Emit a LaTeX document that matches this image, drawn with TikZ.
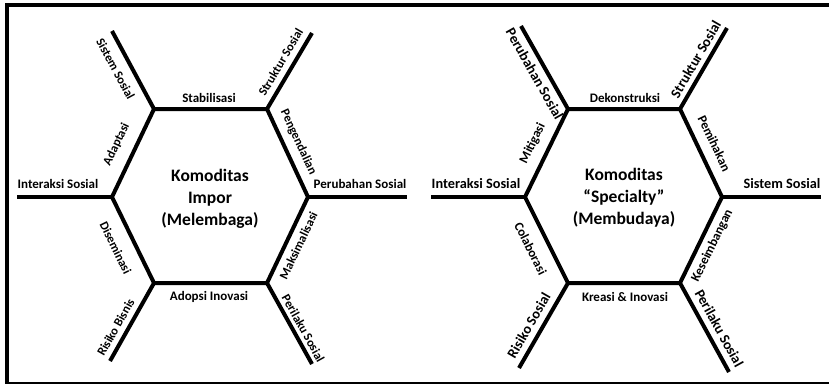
\documentclass[tikz,border=0pt]{standalone}
\usepackage{fontspec}
\setmainfont{Carlito}
\begin{document}
\begin{tikzpicture}[x=1pt,y=-1pt,
  frame/.style={line width=3.5pt, black},
  hexline/.style={line width=4pt, black, line join=miter},
  spoke/.style={line width=4pt, black},
  lblA/.style={inner sep=0pt, font=\fontsize{12.5}{14}\selectfont\bfseries},
  lblB/.style={inner sep=0pt, font=\fontsize{13}{15}\selectfont\bfseries},
  lblC/.style={inner sep=0pt, font=\fontsize{14.3}{16}\selectfont\bfseries},
  outA/.style={yshift=1.5pt},
  outB/.style={yshift=-1.5pt},
  center/.style={inner sep=0pt, align=center, font=\fontsize{17.5}{22}\selectfont\bfseries}]
\useasboundingbox (0,0) rectangle (829,384);
% frame
\coordinate (f1) at (5.25,5);
\coordinate (f2) at (829,5);
\coordinate (f0) at (7,3.25);
\coordinate (f3) at (7,384);
\coordinate (f4) at (7,383);
\coordinate (f5) at (829,383);
\draw[frame] (f1) -- (f2);
\draw[frame] (f0) -- (f3);
\draw[line width=1.5pt] (f4) -- (f5);

% ---------- left hexagon ----------
\coordinate (Atl) at (154,109);
\coordinate (Atr) at (267,109);
\coordinate (Ar)  at (308,197);
\coordinate (Abr) at (267,283);
\coordinate (Abl) at (154,283);
\coordinate (Al)  at (112,197);
\coordinate (Atl2) at (112,31);
\coordinate (Atr2) at (312,33);
\coordinate (Ar2)  at (407,197);
\coordinate (Abr2) at (312,364);
\coordinate (Abl2) at (110,361);
\coordinate (Al2)  at (17,197);
\draw[hexline] (Atl) -- (Atr) -- (Ar) -- (Abr) -- (Abl) -- (Al) -- cycle;
\draw[spoke] (Atl) -- (Atl2);
\draw[spoke] (Atr) -- (Atr2);
\draw[spoke] (Ar) -- (Ar2);
\draw[spoke] (Abr) -- (Abr2);
\draw[spoke] (Abl) -- (Abl2);
\draw[spoke] (Al) -- (Al2);

\node[center] (Ac) at (210,199) {Komoditas\\Impor\\(Melembaga)};
\node[lblB] (Ast) at (209,98) {Stabilisasi};
\node[lblB] (Aad) at (209,297) {Adopsi Inovasi};
\node[lblB] (Ain) at (58,184) {Interaksi Sosial};
\node[lblB] (Ape) at (360,184) {Perubahan Sosial};
\node[lblA, rotate=-61.7, outB] (Asi) at (117,68) {Sistem Sosial};
\node[lblA, rotate=59.4, outA] (Asr) at (282,63) {Struktur Sosial};
\node[lblA, rotate=64.5, outA] (Aap) at (118,145) {Adaptasi};
\node[lblA, rotate=-65, outA] (Apg) at (297,143) {Pengendalian};
\node[lblA, rotate=-64, outB] (Ads) at (117,247) {Diseminasi};
\node[lblA, rotate=64.5, outB] (Amk) at (297,245) {Maksimalisasi};
\node[lblA, rotate=60.6, outA] (Arb) at (117,328) {Risiko Bisnis};
\node[lblA, rotate=-60.9, outA] (Apl) at (302,329) {Perilaku Sosial};

% ---------- right hexagon ----------
\coordinate (Btl) at (568,109);
\coordinate (Btr) at (680,109);
\coordinate (Br)  at (722,197);
\coordinate (Bbr) at (680,283);
\coordinate (Bbl) at (568,283);
\coordinate (Bl)  at (525,197);
\coordinate (Btl2) at (521,26);
\coordinate (Btr2) at (727,28);
\coordinate (Br2)  at (821,197);
\coordinate (Bbr2) at (729,372);
\coordinate (Bbl2) at (519,368);
\coordinate (Bl2)  at (431,197);
\draw[hexline] (Btl) -- (Btr) -- (Br) -- (Bbr) -- (Bbl) -- (Bl) -- cycle;
\draw[spoke] (Btl) -- (Btl2);
\draw[spoke] (Btr) -- (Btr2);
\draw[spoke] (Br) -- (Br2);
\draw[spoke] (Bbr) -- (Bbr2);
\draw[spoke] (Bbl) -- (Bbl2);
\draw[spoke] (Bl) -- (Bl2);

\node[center] (Bc) at (624,198) {Komoditas\\“Specialty”\\(Membudaya)};
\node[lblB] (Bdk) at (625,98) {Dekonstruksi};
\node[lblB] (Bkr) at (625,297) {Kreasi \& Inovasi};
\node[lblC] (Bin) at (476,184) {Interaksi Sosial};
\node[lblC] (Bss) at (782,184) {Sistem Sosial};
\node[lblC, rotate=-60.5, outB] (Bpe) at (536,73) {Perubahan Sosial};
\node[lblC, rotate=59.9, outA] (Bsr) at (697,60) {Struktur Sosial};
\node[lblB, rotate=64, outA] (Bmi) at (534,144) {Mitigasi};
\node[lblB, rotate=-64.5, outA] (Bpm) at (713,144) {Pemihakan};
\node[lblB, rotate=-63.4, outB] (Bco) at (532,248) {Colaborasi};
\node[lblB, rotate=64, outB] (Bke) at (711,245) {Keseimbangan};
\node[lblC, rotate=60, outA] (Brs) at (530,326) {Risiko Sosial};
\node[lblC, rotate=-61.2, outA] (Bpl) at (718,329) {Perilaku Sosial};
\end{tikzpicture}
\end{document}
